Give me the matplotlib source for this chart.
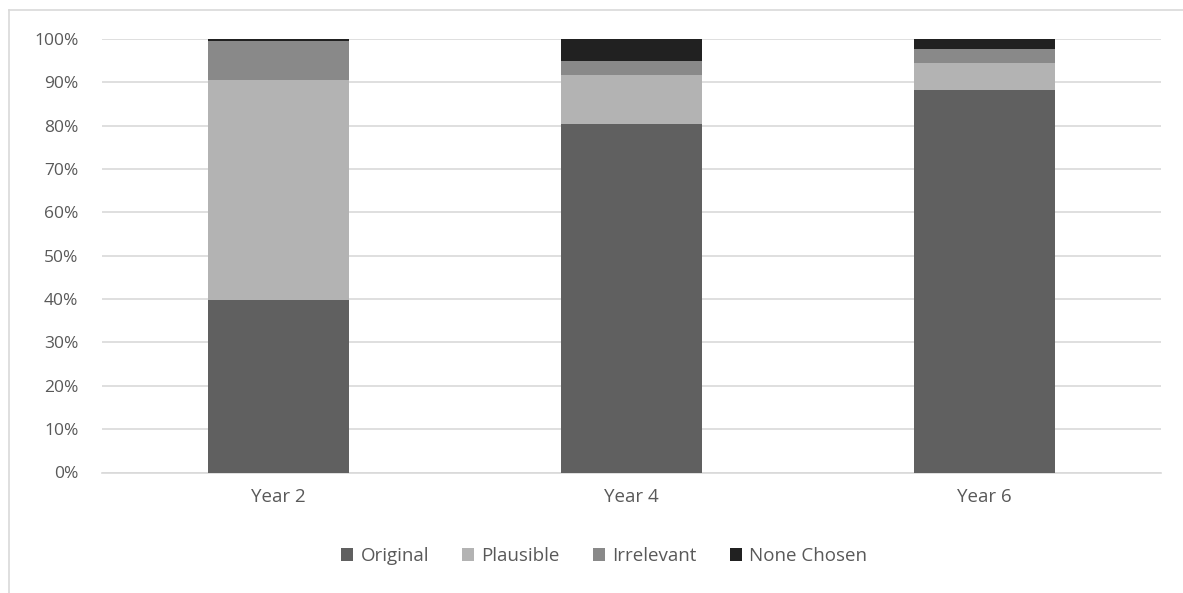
import matplotlib.pyplot as plt
from matplotlib.lines import Line2D
from matplotlib.patches import Patch
from matplotlib.ticker import PercentFormatter

years = ['Year 2', 'Year 4', 'Year 6']
original = [39.8, 80.3, 88.2]
plausible = [50.7, 11.5, 6.2]
irrelevant = [9.0, 3.2, 3.3]
none_chosen = [0.5, 5.0, 2.3]

series = ['Original', 'Plausible', 'Irrelevant', 'None Chosen']
colours = ['#606060', '#b3b3b3', '#898989', '#212121']
txt = '#595959'

plt.rcParams['font.family'] = ['Open Sans', 'DejaVu Sans']

W, H = 1183, 593
fig = plt.figure(figsize=(W / 100, H / 100), dpi=100)
ax = fig.add_axes([102 / W, 1 - 472.5 / H, 1059 / W, 433.5 / H])

x = range(len(years))
bottom = [0, 0, 0]
for name, vals, c in zip(series, [original, plausible, irrelevant, none_chosen], colours):
    ax.bar(x, vals, bottom=bottom, width=0.4, color=c, label=name, zorder=3)
    bottom = [b + v for b, v in zip(bottom, vals)]

ax.set_xlim(-0.5, 2.5)
ax.set_ylim(0, 100)
ax.set_yticks(range(0, 101, 10))
ax.yaxis.set_major_formatter(PercentFormatter(decimals=0))
ax.set_xticks(list(x))
ax.set_xticklabels(years)
ax.grid(axis='y', color='#d9d9d9', linewidth=1.2, zorder=0)
for s in ['top', 'right', 'left']:
    ax.spines[s].set_visible(False)
ax.spines['bottom'].set_color('#d9d9d9')
ax.spines['bottom'].set_linewidth(1.2)
ax.tick_params(length=0, colors=txt)
ax.tick_params(axis='y', pad=17, labelsize=12.5)
ax.tick_params(axis='x', pad=11, labelsize=13.5)

handles = [Patch(facecolor=c, label=n) for n, c in zip(series, colours)]
fig.legend(handles=handles, loc='center', bbox_to_anchor=(604 / W, 1 - 556 / H), ncol=4,
           frameon=False, fontsize=13.5, labelcolor=txt, handlelength=0.65, handleheight=0.65,
           handletextpad=0.4, columnspacing=1.75)

# outer chart frame
fig.add_artist(Line2D([8.5 / W, 1.0], [1 - 9.5 / H] * 2, color='#d9d9d9', lw=1.2))
fig.add_artist(Line2D([8.5 / W] * 2, [0, 1 - 9.5 / H], color='#d9d9d9', lw=1.2))

fig.savefig('out.png', dpi=100)
